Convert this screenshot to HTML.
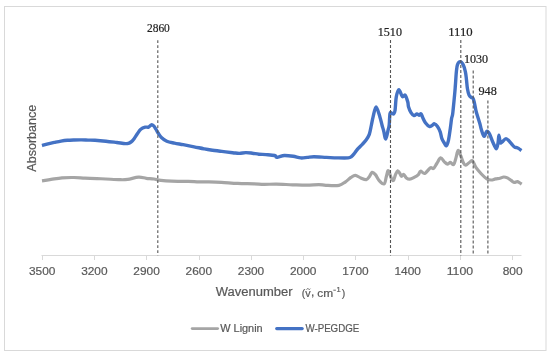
<!DOCTYPE html>
<html><head><meta charset="utf-8"><style>
html,body{margin:0;padding:0;background:#fff;}
body{width:550px;height:355px;overflow:hidden;}
svg{display:block;will-change:transform;filter:blur(0.3px);}
text{font-family:"Liberation Sans",sans-serif;}
.tl{font-size:11.5px;fill:#595959;stroke:#595959;stroke-width:0.2px;}
.at{font-size:12px;fill:#595959;stroke:#595959;stroke-width:0.2px;}
.lg{font-size:10px;fill:#595959;stroke:#595959;stroke-width:0.2px;}
.an{font-family:"Liberation Serif",serif;font-size:12.4px;fill:#222;stroke:#222;stroke-width:0.2px;}
</style></head><body>
<svg width="550" height="355" viewBox="0 0 550 355">
<rect x="4.5" y="6.5" width="541.5" height="344" fill="#fff" stroke="#d9d9d9" stroke-width="1"/>
<line x1="41.5" y1="255.5" x2="521.5" y2="255.5" stroke="#d9d9d9" stroke-width="1"/>
<line x1="42.5" y1="255.5" x2="42.5" y2="260.0" stroke="#d9d9d9" stroke-width="1"/>
<line x1="94.5" y1="255.5" x2="94.5" y2="260.0" stroke="#d9d9d9" stroke-width="1"/>
<line x1="146.5" y1="255.5" x2="146.5" y2="260.0" stroke="#d9d9d9" stroke-width="1"/>
<line x1="199.5" y1="255.5" x2="199.5" y2="260.0" stroke="#d9d9d9" stroke-width="1"/>
<line x1="251.5" y1="255.5" x2="251.5" y2="260.0" stroke="#d9d9d9" stroke-width="1"/>
<line x1="303.5" y1="255.5" x2="303.5" y2="260.0" stroke="#d9d9d9" stroke-width="1"/>
<line x1="355.5" y1="255.5" x2="355.5" y2="260.0" stroke="#d9d9d9" stroke-width="1"/>
<line x1="408.5" y1="255.5" x2="408.5" y2="260.0" stroke="#d9d9d9" stroke-width="1"/>
<line x1="460.5" y1="255.5" x2="460.5" y2="260.0" stroke="#d9d9d9" stroke-width="1"/>
<line x1="512.5" y1="255.5" x2="512.5" y2="260.0" stroke="#d9d9d9" stroke-width="1"/>
<path d="M42.00 180.80 C43.52 180.57 47.77 179.90 51.10 179.40 C54.43 178.90 58.18 178.12 62.00 177.80 C65.82 177.48 70.18 177.45 74.00 177.50 C77.82 177.55 81.08 177.92 84.90 178.10 C88.72 178.28 93.40 178.45 96.90 178.60 C100.40 178.75 102.03 178.82 105.90 179.00 C109.77 179.18 116.47 179.63 120.10 179.70 C123.73 179.77 124.62 179.82 127.70 179.40 C130.78 178.98 135.50 177.38 138.60 177.20 C141.70 177.02 143.75 178.00 146.30 178.30 C148.85 178.60 151.47 178.67 153.90 179.00 C156.33 179.33 157.92 179.95 160.90 180.30 C163.88 180.65 167.25 180.92 171.80 181.10 C176.35 181.28 183.65 181.27 188.20 181.40 C192.75 181.53 195.65 181.82 199.10 181.90 C202.55 181.98 205.18 181.83 208.90 181.90 C212.62 181.97 216.60 182.05 221.40 182.30 C226.20 182.55 232.25 183.15 237.70 183.40 C243.15 183.65 249.73 183.63 254.10 183.80 C258.47 183.97 260.18 184.35 263.90 184.40 C267.62 184.45 271.60 184.03 276.40 184.10 C281.20 184.17 287.62 184.62 292.70 184.80 C297.78 184.98 302.53 185.23 306.90 185.20 C311.27 185.17 315.73 184.58 318.90 184.60 C322.07 184.62 322.55 185.18 325.90 185.30 C329.25 185.42 335.73 185.88 339.00 185.30 C342.27 184.72 343.50 183.12 345.50 181.80 C347.50 180.48 349.37 178.48 351.00 177.40 C352.63 176.32 353.67 175.20 355.30 175.30 C356.93 175.40 358.97 177.28 360.80 178.00 C362.63 178.72 364.85 179.87 366.30 179.60 C367.75 179.33 368.53 177.60 369.50 176.40 C370.47 175.20 371.12 172.70 372.10 172.40 C373.08 172.10 374.22 173.23 375.40 174.60 C376.58 175.97 377.75 179.05 379.20 180.60 C380.65 182.15 382.92 184.53 384.10 183.90 C385.28 183.27 385.67 178.98 386.30 176.80 C386.93 174.62 387.37 171.43 387.90 170.80 C388.43 170.17 388.95 171.82 389.50 173.00 C390.05 174.18 390.55 176.63 391.20 177.90 C391.85 179.17 392.68 181.15 393.40 180.60 C394.12 180.05 394.78 176.23 395.50 174.60 C396.22 172.97 396.97 170.98 397.70 170.80 C398.43 170.62 399.27 172.58 399.90 173.50 C400.53 174.42 400.87 176.15 401.50 176.30 C402.13 176.45 402.88 174.13 403.70 174.40 C404.52 174.67 405.40 177.10 406.40 177.90 C407.40 178.70 408.42 179.28 409.70 179.20 C410.98 179.12 412.65 178.17 414.10 177.40 C415.55 176.63 417.33 175.63 418.40 174.60 C419.47 173.57 419.43 171.40 420.50 171.20 C421.57 171.00 423.17 173.95 424.80 173.40 C426.43 172.85 428.85 168.73 430.30 167.90 C431.75 167.07 432.42 169.13 433.50 168.40 C434.58 167.67 435.62 165.25 436.80 163.50 C437.98 161.75 439.33 158.17 440.60 157.90 C441.87 157.63 443.22 160.87 444.40 161.90 C445.58 162.93 446.70 164.02 447.70 164.10 C448.70 164.18 449.40 162.32 450.40 162.40 C451.40 162.48 452.78 165.32 453.70 164.60 C454.62 163.88 455.17 160.45 455.90 158.10 C456.63 155.75 457.28 150.87 458.10 150.50 C458.92 150.13 459.90 153.82 460.80 155.90 C461.70 157.98 462.68 161.45 463.50 163.00 C464.32 164.55 464.72 165.28 465.70 165.20 C466.68 165.12 468.25 163.22 469.40 162.50 C470.55 161.78 471.52 160.08 472.60 160.90 C473.68 161.72 474.43 165.22 475.90 167.40 C477.37 169.58 479.58 172.08 481.40 174.00 C483.22 175.92 485.17 177.90 486.80 178.90 C488.43 179.90 489.75 180.00 491.20 180.00 C492.65 180.00 494.03 179.20 495.50 178.90 C496.97 178.60 498.63 178.52 500.00 178.20 C501.37 177.88 502.47 177.05 503.70 177.00 C504.93 176.95 506.17 177.33 507.40 177.90 C508.63 178.47 509.97 179.65 511.10 180.40 C512.23 181.15 513.17 182.20 514.20 182.40 C515.23 182.60 516.37 181.52 517.30 181.60 C518.23 181.68 519.07 182.48 519.80 182.90 C520.53 183.32 521.38 183.90 521.70 184.10" fill="none" stroke="#a5a5a5" stroke-width="3.2" stroke-linejoin="round" stroke-linecap="butt"/>
<path d="M42.00 145.60 C43.00 145.30 45.93 144.33 48.00 143.80 C50.07 143.27 52.23 142.85 54.40 142.40 C56.57 141.95 58.83 141.45 61.00 141.10 C63.17 140.75 65.23 140.48 67.40 140.30 C69.57 140.12 71.63 140.07 74.00 140.00 C76.37 139.93 79.27 139.88 81.60 139.90 C83.93 139.92 85.77 140.03 88.00 140.10 C90.23 140.17 92.02 140.12 95.00 140.30 C97.98 140.48 102.27 140.83 105.90 141.20 C109.53 141.57 113.53 142.10 116.80 142.50 C120.07 142.90 123.55 143.47 125.50 143.60 C127.45 143.73 127.50 143.63 128.50 143.30 C129.50 142.97 130.53 142.42 131.50 141.60 C132.47 140.78 133.30 139.75 134.30 138.40 C135.30 137.05 136.42 135.03 137.50 133.50 C138.58 131.97 139.52 130.25 140.80 129.20 C142.08 128.15 143.90 127.55 145.20 127.20 C146.50 126.85 147.57 127.50 148.60 127.10 C149.63 126.70 150.55 125.00 151.40 124.80 C152.25 124.60 152.95 125.17 153.70 125.90 C154.45 126.63 155.17 128.02 155.90 129.20 C156.63 130.38 157.18 131.63 158.10 133.00 C159.02 134.37 159.95 136.03 161.40 137.40 C162.85 138.77 164.63 140.25 166.80 141.20 C168.97 142.15 171.67 142.52 174.40 143.10 C177.13 143.68 179.92 144.08 183.20 144.70 C186.48 145.32 190.65 146.12 194.10 146.80 C197.55 147.48 201.10 148.27 203.90 148.80 C206.70 149.33 207.92 149.57 210.90 150.00 C213.88 150.43 218.17 150.95 221.80 151.40 C225.43 151.85 229.78 152.37 232.70 152.70 C235.62 153.03 237.12 153.42 239.30 153.40 C241.48 153.38 243.63 152.63 245.80 152.60 C247.97 152.57 250.12 152.93 252.30 153.20 C254.48 153.47 256.63 153.97 258.90 154.20 C261.17 154.43 263.28 154.38 265.90 154.60 C268.52 154.82 272.87 155.07 274.60 155.50 C276.33 155.93 275.57 156.98 276.30 157.20 C277.03 157.42 277.65 157.08 279.00 156.80 C280.35 156.52 282.03 155.58 284.40 155.50 C286.77 155.42 290.47 155.90 293.20 156.30 C295.93 156.70 298.45 157.72 300.80 157.90 C303.15 158.08 305.12 157.58 307.30 157.40 C309.48 157.22 310.72 156.80 313.90 156.80 C317.08 156.80 322.50 157.22 326.40 157.40 C330.30 157.58 333.67 157.82 337.30 157.90 C340.93 157.98 345.85 158.12 348.20 157.90 C350.55 157.68 350.32 157.42 351.40 156.60 C352.48 155.78 353.60 154.33 354.70 153.00 C355.80 151.67 356.73 150.05 358.00 148.60 C359.27 147.15 360.98 145.70 362.30 144.30 C363.62 142.90 364.73 141.87 365.90 140.20 C367.07 138.53 368.38 136.83 369.30 134.30 C370.22 131.77 370.77 127.90 371.40 125.00 C372.03 122.10 372.32 119.92 373.10 116.90 C373.88 113.88 374.97 106.90 376.10 106.90 C377.23 106.90 378.92 113.88 379.90 116.90 C380.88 119.92 381.37 122.65 382.00 125.00 C382.63 127.35 383.07 128.68 383.70 131.00 C384.33 133.32 385.03 139.20 385.80 138.90 C386.57 138.60 387.73 131.52 388.30 129.20 C388.87 126.88 388.92 127.62 389.20 125.00 C389.48 122.38 389.57 115.47 390.00 113.50 C390.43 111.53 391.17 113.15 391.80 113.20 C392.43 113.25 393.25 114.33 393.80 113.80 C394.35 113.27 394.68 112.82 395.10 110.00 C395.52 107.18 395.67 100.28 396.30 96.90 C396.93 93.52 397.90 89.77 398.90 89.70 C399.90 89.63 401.25 95.58 402.30 96.50 C403.35 97.42 404.28 94.28 405.20 95.20 C406.12 96.12 407.25 100.07 407.80 102.00 C408.35 103.93 407.97 105.02 408.50 106.80 C409.03 108.58 410.08 111.23 411.00 112.70 C411.92 114.17 413.02 115.40 414.00 115.60 C414.98 115.80 416.07 113.97 416.90 113.90 C417.73 113.83 418.30 115.20 419.00 115.20 C419.70 115.20 420.47 113.47 421.10 113.90 C421.73 114.33 422.08 116.32 422.80 117.80 C423.52 119.28 424.30 121.35 425.40 122.80 C426.50 124.25 428.28 126.07 429.40 126.50 C430.52 126.93 431.25 125.85 432.10 125.40 C432.95 124.95 433.60 123.62 434.50 123.80 C435.40 123.98 436.55 125.15 437.50 126.50 C438.45 127.85 439.47 129.87 440.20 131.90 C440.93 133.93 441.20 136.82 441.90 138.70 C442.60 140.58 443.65 142.05 444.40 143.20 C445.15 144.35 445.72 146.12 446.40 145.60 C447.08 145.08 447.83 143.08 448.50 140.10 C449.17 137.12 449.88 131.32 450.40 127.70 C450.92 124.08 451.25 120.52 451.60 118.40 C451.95 116.28 452.25 116.40 452.50 115.00 C452.75 113.60 452.72 113.72 453.10 110.00 C453.48 106.28 454.42 96.87 454.80 92.70 C455.18 88.53 455.13 88.55 455.40 85.00 C455.67 81.45 456.05 74.80 456.40 71.40 C456.75 68.00 456.87 66.23 457.50 64.60 C458.13 62.97 459.27 61.60 460.20 61.60 C461.13 61.60 462.23 62.88 463.10 64.60 C463.97 66.32 464.83 69.33 465.40 71.90 C465.97 74.47 466.17 77.23 466.50 80.00 C466.83 82.77 466.97 85.97 467.40 88.50 C467.83 91.03 468.47 93.73 469.10 95.20 C469.73 96.67 470.57 96.80 471.20 97.30 C471.83 97.80 472.40 97.42 472.90 98.20 C473.40 98.98 473.78 100.38 474.20 102.00 C474.62 103.62 475.02 106.12 475.40 107.90 C475.78 109.68 475.75 110.07 476.50 112.70 C477.25 115.33 479.12 120.98 479.90 123.70 C480.68 126.42 480.52 126.90 481.20 129.00 C481.88 131.10 483.07 135.92 484.00 136.30 C484.93 136.68 485.87 131.67 486.80 131.30 C487.73 130.93 488.57 132.23 489.60 134.10 C490.63 135.97 491.87 140.07 493.00 142.50 C494.13 144.93 495.55 148.70 496.40 148.70 C497.25 148.70 497.68 144.75 498.10 142.50 C498.52 140.25 498.53 135.20 498.90 135.20 C499.27 135.20 499.78 141.37 500.30 142.50 C500.82 143.63 501.05 142.65 502.00 142.00 C502.95 141.35 504.68 138.60 506.00 138.60 C507.32 138.60 508.50 140.60 509.90 142.00 C511.30 143.40 513.25 146.07 514.40 147.00 C515.55 147.93 516.12 147.37 516.80 147.60 C517.48 147.83 517.72 147.92 518.50 148.40 C519.28 148.88 521.00 150.15 521.50 150.50" fill="none" stroke="#4472c4" stroke-width="3.4" stroke-linejoin="round" stroke-linecap="butt"/>
<line x1="157.8" y1="40.2" x2="157.8" y2="255.5" stroke="#555" stroke-width="1.1" stroke-dasharray="2.9 2.1"/>
<line x1="390.5" y1="40.0" x2="390.5" y2="255.5" stroke="#555" stroke-width="1.1" stroke-dasharray="2.9 2.1"/>
<line x1="460.8" y1="40.0" x2="460.8" y2="255.5" stroke="#555" stroke-width="1.1" stroke-dasharray="2.9 2.1"/>
<line x1="473.2" y1="70.6" x2="473.2" y2="255.5" stroke="#555" stroke-width="1.1" stroke-dasharray="2.9 2.1"/>
<line x1="487.9" y1="100.6" x2="487.9" y2="255.5" stroke="#555" stroke-width="1.1" stroke-dasharray="2.9 2.1"/>
<line x1="192.2" y1="328.6" x2="217.6" y2="328.6" stroke="#a5a5a5" stroke-width="2.9" stroke-linecap="round"/>
<line x1="276.7" y1="328.6" x2="302.2" y2="328.6" stroke="#4472c4" stroke-width="3.2" stroke-linecap="round"/>
<text id="t3500" x="28.93" y="275.30" class="tl" textLength="26.43" lengthAdjust="spacingAndGlyphs">3500</text>
<text id="t3200" x="81.15" y="275.30" class="tl" textLength="26.43" lengthAdjust="spacingAndGlyphs">3200</text>
<text id="t2900" x="133.37" y="275.30" class="tl" textLength="26.43" lengthAdjust="spacingAndGlyphs">2900</text>
<text id="t2600" x="185.59" y="275.30" class="tl" textLength="26.43" lengthAdjust="spacingAndGlyphs">2600</text>
<text id="t2300" x="237.81" y="275.30" class="tl" textLength="26.43" lengthAdjust="spacingAndGlyphs">2300</text>
<text id="t2000" x="290.03" y="275.30" class="tl" textLength="26.43" lengthAdjust="spacingAndGlyphs">2000</text>
<text id="t1700" x="342.25" y="275.30" class="tl" textLength="26.43" lengthAdjust="spacingAndGlyphs">1700</text>
<text id="t1400" x="394.47" y="275.30" class="tl" textLength="26.43" lengthAdjust="spacingAndGlyphs">1400</text>
<text id="t1100" x="446.69" y="275.30" class="tl" textLength="26.43" lengthAdjust="spacingAndGlyphs">1100</text>
<text id="t800" x="502.68" y="275.30" class="tl" textLength="19.92" lengthAdjust="spacingAndGlyphs">800</text>
<text id="a2860" x="146.93" y="32.00" class="an" textLength="22.91" lengthAdjust="spacingAndGlyphs">2860</text>
<text id="a1510" x="377.77" y="36.19" class="an" textLength="24.16" lengthAdjust="spacingAndGlyphs">1510</text>
<text id="a1110" x="448.16" y="36.20" class="an" textLength="24.52" lengthAdjust="spacingAndGlyphs">1110</text>
<text id="a1030" x="463.98" y="62.80" class="an" textLength="24.19" lengthAdjust="spacingAndGlyphs">1030</text>
<text id="a948" x="478.43" y="95.33" class="an" textLength="18.34" lengthAdjust="spacingAndGlyphs">948</text>
<text id="wav" x="215.78" y="296.20" class="at" textLength="76.77" lengthAdjust="spacingAndGlyphs">Wavenumber</text>
<text id="lg1" x="220.25" y="331.79" class="lg" textLength="42.42" lengthAdjust="spacingAndGlyphs">W Lignin</text>
<text id="lg2" x="305.39" y="331.50" class="lg" textLength="53.93" lengthAdjust="spacingAndGlyphs">W-PEGDGE</text>
<text id="p1" x="301.74" y="296.53" class="at" style="font-size:10.5px">(</text>
<text id="vv" x="305.38" y="296.60" class="at" textLength="5.36" lengthAdjust="spacingAndGlyphs" style="font-size:10.5px">v</text>
<text id="cma" x="311.01" y="296.46" class="at">,</text>
<text id="cm" x="317.34" y="296.55" class="at" textLength="15.89" lengthAdjust="spacingAndGlyphs" style="font-size:10.5px">cm</text>
<text id="one" x="336.56" y="292.30" class="at" style="font-size:7.5px">1</text>
<text id="p2" x="341.86" y="297.29" class="at" style="font-size:10.5px">)</text>
<path d="M306.3 289.6 C307.2 288.3 308.3 288.6 308.6 289.1 C309.1 289.7 309.9 289.5 310.4 288.7" fill="none" stroke="#595959" stroke-width="0.9"/>
<line x1="333.3" y1="290.2" x2="335.9" y2="290.2" stroke="#595959" stroke-width="0.9"/>
<text transform="translate(36.3,138.2) rotate(-90)" text-anchor="middle" class="at" textLength="67" lengthAdjust="spacingAndGlyphs">Absorbance</text>
</svg>
</body></html>
